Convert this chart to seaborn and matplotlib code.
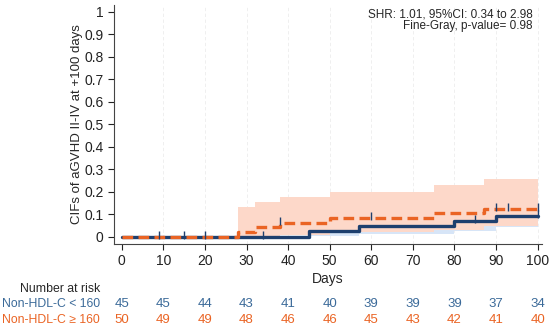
import seaborn as sns
import matplotlib.pyplot as plt
import matplotlib.transforms as mtransforms
import numpy as np

# step data
low_t = [0, 45, 57, 80, 90, 100]
low_cif = [0, 0.024, 0.048, 0.071, 0.095, 0.095]
low_lo = [0, 0.002, 0.012, 0.025, 0.042, 0.042]
low_hi = [0, 0.12, 0.15, 0.18, 0.21, 0.21]

high_t = [0, 28, 32, 38, 50, 75, 87, 100]
high_cif = [0, 0.021, 0.042, 0.063, 0.083, 0.104, 0.125, 0.125]
high_lo = [0, 0.0, 0.002, 0.008, 0.02, 0.03, 0.05, 0.05]
high_hi = [0, 0.135, 0.155, 0.179, 0.201, 0.231, 0.258, 0.258]

low_censor = [9, 15, 20, 34, 85, 100]
high_censor = [38, 60, 90, 93, 100]

risk_days = [0, 10, 20, 30, 40, 50, 60, 70, 80, 90, 100]
risk_low = [45, 45, 44, 43, 41, 40, 39, 39, 39, 37, 34]
risk_high = [50, 49, 49, 48, 46, 46, 45, 43, 42, 41, 40]

label_low = 'Non-HDL-C < 160'
label_high = 'Non-HDL-C \u2265 160'

navy = '#1d3f6e'
blue_txt = '#3b6a99'
orange = '#ea6424'
orange_band = '#fdd8c9'
blue_band = '#d7e5f7'

sns.set_style('white')
plt.rcParams['font.family'] = ['Liberation Sans', 'DejaVu Sans']

fig = plt.figure(figsize=(5.5, 3.3), dpi=100)
ax = fig.add_axes([0.207, 0.261, 0.778, 0.724])

# CI bands
ax.fill_between(low_t, low_lo, low_hi, step='post', color=blue_band, lw=0, zorder=1)
ax.fill_between(high_t, high_lo, high_hi, step='post', color=orange_band, lw=0, zorder=2)

# vertical grid
for d in risk_days[1:]:
    ax.axvline(d, color='#ececec', lw=0.6, ls=(0, (4, 3)), zorder=0)

sns.lineplot(x=low_t, y=low_cif, drawstyle='steps-post', estimator=None,
             color=navy, lw=2.4, ax=ax, zorder=4)
sns.lineplot(x=high_t, y=high_cif, drawstyle='steps-post', estimator=None,
             color=orange, lw=2.4, ax=ax, zorder=5)
ax.lines[-1].set_dashes((3.2, 1.6))


def step_val(ts, vs, x):
    i = np.searchsorted(ts, x, side='right') - 1
    return vs[i]


low_cy = [step_val(low_t, low_cif, c) + 0.008 for c in low_censor]
high_cy = [step_val(high_t, high_cif, c) + 0.008 for c in high_censor]
sns.scatterplot(x=low_censor, y=low_cy, marker='|', s=40, linewidth=1,
                color=navy, ax=ax, zorder=6)
sns.scatterplot(x=high_censor, y=high_cy, marker='|', s=40, linewidth=1,
                color=navy, ax=ax, zorder=6)

ax.set_xlim(-1.9, 101)
ax.set_ylim(-0.031, 1.031)
ax.set_xticks(risk_days)
ax.set_yticks(np.arange(0, 1.01, 0.1))
ax.set_yticklabels(['0', '0.1', '0.2', '0.3', '0.4', '0.5', '0.6', '0.7', '0.8', '0.9', '1'])
ax.tick_params(axis='both', labelsize=10, length=4, width=0.8, direction='out',
               left=True, bottom=True, colors='#222222')
ax.spines['top'].set_visible(False)
ax.spines['right'].set_visible(False)
for s in ['left', 'bottom']:
    ax.spines[s].set_color('#444444')
    ax.spines[s].set_linewidth(0.8)
ax.set_xlabel('Days', fontsize=10, labelpad=3)
ax.set_ylabel('CIFs of aGVHD II-IV at +100 days', fontsize=9.5, labelpad=1)

ax.text(0.979, 0.985, 'SHR: 1.01, 95%CI: 0.34 to 2.98', transform=ax.transAxes,
        ha='right', va='top', fontsize=8.5)
ax.text(0.979, 0.935, 'Fine-Gray, p-value= 0.98', transform=ax.transAxes,
        ha='right', va='top', fontsize=8.5)

# number at risk table
tr = mtransforms.blended_transform_factory(ax.transData, fig.transFigure)
fig.text(0.182, 0.124, 'Number at risk', ha='right', va='center', fontsize=8.8)
fig.text(0.182, 0.079, label_low, ha='right', va='center', fontsize=8.8, color=blue_txt)
fig.text(0.182, 0.030, label_high, ha='right', va='center', fontsize=8.8, color=orange)
for d, a, b in zip(risk_days, risk_low, risk_high):
    ax.text(d, 0.079, str(a), transform=tr, ha='center', va='center',
            fontsize=9.5, color=blue_txt)
    ax.text(d, 0.030, str(b), transform=tr, ha='center', va='center',
            fontsize=9.5, color=orange)

fig.savefig('out.png', dpi=100)
